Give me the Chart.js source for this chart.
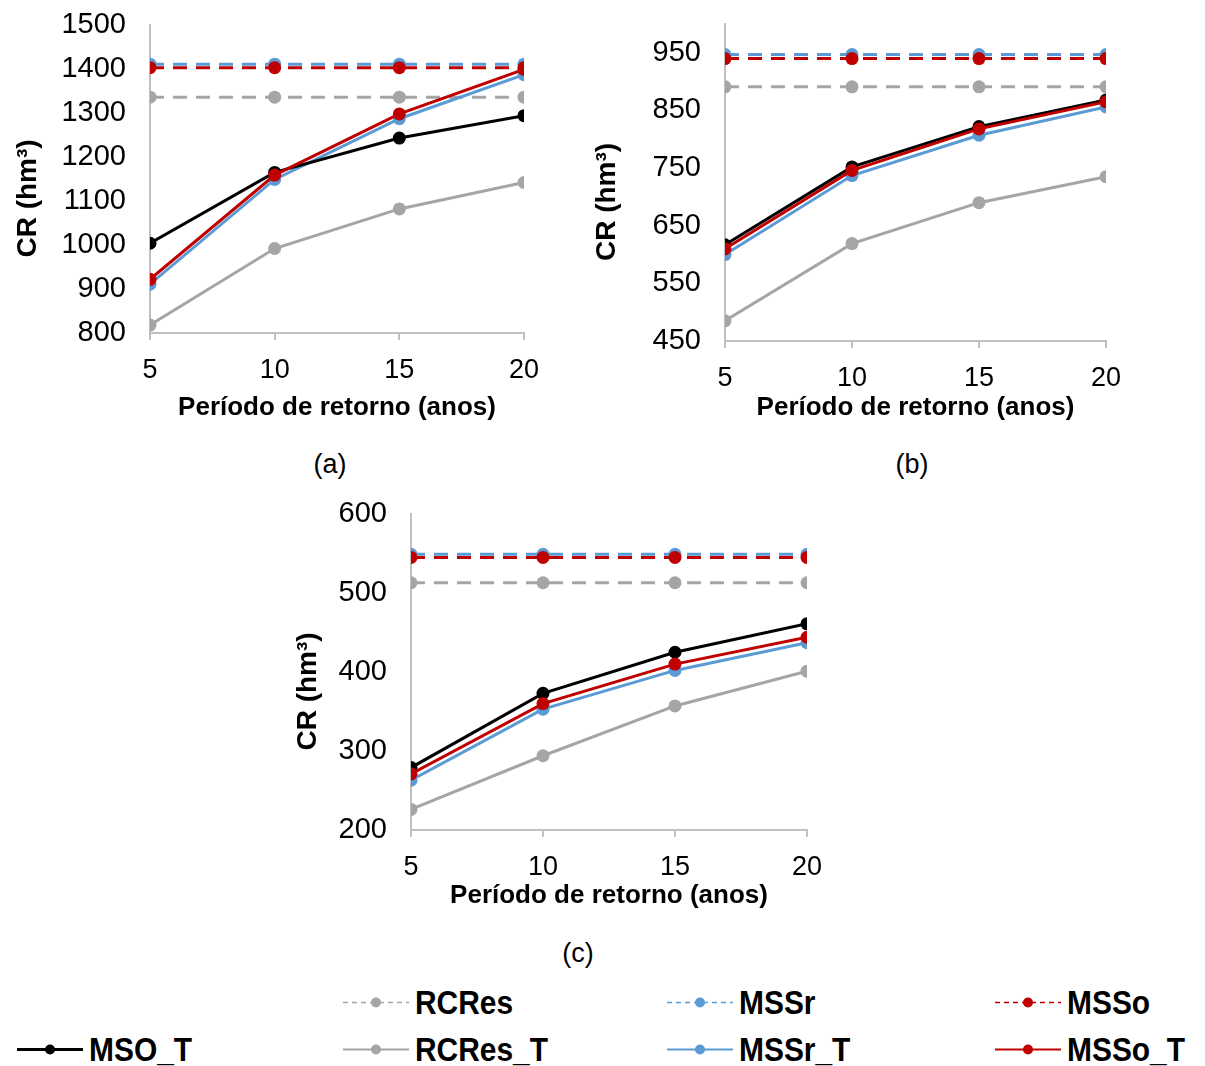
<!DOCTYPE html>
<html>
<head>
<meta charset="utf-8">
<script src="https://cdn.jsdelivr.net/npm/chart.js@4.4.1/dist/chart.umd.min.js"></script>
<style>
  body { margin: 0; background: #fff; width: 1205px; height: 1066px; position: relative; overflow: hidden;
         font-family: "Liberation Sans", Arial, sans-serif; }
  canvas { position: absolute; }
  .tag { position: absolute; font-size: 27px; color: #000; transform: translate(-50%, -50%); }
  .leg { position: absolute; display: flex; align-items: center; transform: translateY(-50%);
         font-size: 34px; font-weight: bold; color: #000; }
  .leg svg { margin-right: 6px; }
  .leg span { display: inline-block; transform: scaleX(0.88); transform-origin: left center; }
</style>
</head>
<body>
<canvas id="chartA" width="560" height="430" style="left:0;top:0"></canvas>
<canvas id="chartB" width="562" height="430" style="left:580px;top:0"></canvas>
<canvas id="chartC" width="563" height="425" style="left:280px;top:490px"></canvas>
<div class="tag" style="left:330px;top:464px">(a)</div>
<div class="tag" style="left:912px;top:464px">(b)</div>
<div class="tag" style="left:578px;top:953px">(c)</div>
<div id="legend"></div>

<script>
// Return periods (x axis)
const periods = [5, 10, 15, 20];

// Chart (a)
const yTicksA = [800, 900, 1000, 1100, 1200, 1300, 1400, 1500];
const rcresA   = [1336, 1336, 1336, 1336];
const mssrA    = [1411, 1411, 1411, 1411];
const mssoA    = [1403, 1403, 1403, 1403];
const msoTA    = [1004, 1165, 1243, 1294];
const rcresTA  = [818, 992, 1082, 1142];
const mssrTA   = [911, 1149, 1287, 1387];
const mssoTA   = [922, 1159, 1298, 1399];

// Chart (b)
const yTicksB = [450, 550, 650, 750, 850, 950];
const rcresB   = [891, 891, 891, 891];
const mssrB    = [947, 947, 947, 947];
const mssoB    = [940, 940, 940, 940];
const msoTB    = [617, 752, 822, 868];
const rcresTB  = [485, 619, 690, 735];
const mssrTB   = [600, 737, 807, 856];
const mssoTB   = [610, 746, 818, 865];

// Chart (c)
const yTicksC = [200, 300, 400, 500, 600];
const rcresC   = [513, 513, 513, 513];
const mssrC    = [549, 549, 549, 549];
const mssoC    = [545, 545, 545, 545];
const msoTC    = [279, 373, 425, 461];
const rcresTC  = [226, 294, 357, 401];
const mssrTC   = [263, 353, 402, 437];
const mssoTC   = [271, 360, 410, 444];

const FONT = "'Liberation Sans', Arial, sans-serif";
const AXIS_GRAY = '#bfbfbf';

// Series look (legend order)
const series = [
  { name: 'RCRes',   color: '#a5a5a5', dashed: true,  width: 3 },
  { name: 'MSSr',    color: '#5b9bd5', dashed: true,  width: 3 },
  { name: 'MSSo',    color: '#c00000', dashed: true,  width: 3 },
  { name: 'MSO_T',   color: '#000000', dashed: false, width: 3 },
  { name: 'RCRes_T', color: '#a5a5a5', dashed: false, width: 3 },
  { name: 'MSSr_T',  color: '#5b9bd5', dashed: false, width: 3 },
  { name: 'MSSo_T',  color: '#c00000', dashed: false, width: 3 }
];

// first = drawn on top
const drawOrder = ['MSSo_T', 'MSSo', 'MSO_T', 'MSSr_T', 'MSSr', 'RCRes_T', 'RCRes'];

function buildDatasets(values) {
  return drawOrder.map(name => {
    const s = series.find(x => x.name === name);
    return {
      label: name,
      data: periods.map((p, i) => ({ x: p, y: values[name][i] })),
      borderColor: s.color,
      backgroundColor: s.color,
      borderWidth: s.width,
      borderDash: s.dashed ? [14, 9] : [],
      pointRadius: 6.5,
      pointBorderWidth: 0,
      pointBackgroundColor: s.color,
      tension: 0,
      fill: false
    };
  });
}

function buildOptions(cfg) {
  return {
    responsive: false,
    animation: false,
    layout: { padding: { top: cfg.padTop, right: 36, bottom: 0, left: 0 } },
    plugins: { legend: { display: false }, tooltip: { enabled: false } },
    scales: {
      x: {
        type: 'linear',
        min: 5,
        max: 20,
        afterBuildTicks: s => { s.ticks = periods.map(v => ({ value: v })); },
        afterFit: s => { s.height = cfg.xHeight; },
        grid: { display: true, drawOnChartArea: false, drawTicks: true, tickLength: 7, color: AXIS_GRAY, lineWidth: 2 },
        border: { display: true, color: AXIS_GRAY, width: 2 },
        ticks: { color: '#000', padding: 14, maxRotation: 0, autoSkip: false,
                 font: { family: FONT, size: 27 }, callback: v => String(v) },
        title: {
          display: true,
          text: 'Período de retorno (anos)',
          color: '#000',
          font: { family: FONT, size: 26, weight: 'bold' },
          padding: { top: 0, bottom: cfg.xTitlePad }
        }
      },
      y: {
        min: cfg.yMin,
        max: cfg.yMax,
        afterBuildTicks: s => { s.ticks = cfg.yTicks.map(v => ({ value: v })); },
        afterFit: s => { s.width = cfg.yWidth; s.paddingTop = 0; s.paddingBottom = 0; },
        grid: { display: false, drawTicks: false },
        border: { display: true, color: AXIS_GRAY, width: 2 },
        ticks: { color: '#000', padding: 24, font: { family: FONT, size: 29 }, callback: v => String(v) },
        title: {
          display: true,
          // trailing spaces push the rotated title a bit lower, like the original
          text: 'CR (hm³)     ',
          color: '#000',
          font: { family: FONT, size: 28, weight: 'bold' },
          padding: { top: cfg.yTitlePad, bottom: 0 }
        }
      }
    }
  };
}

new Chart(document.getElementById('chartA'), {
  type: 'line',
  data: { datasets: buildDatasets({
    'RCRes': rcresA, 'MSSr': mssrA, 'MSSo': mssoA, 'MSO_T': msoTA,
    'RCRes_T': rcresTA, 'MSSr_T': mssrTA, 'MSSo_T': mssoTA }) },
  options: buildOptions({ padTop: 25, yWidth: 150, xHeight: 97, xTitlePad: 7, yTitlePad: 11,
                          yMin: 800, yMax: 1500, yTicks: yTicksA })
});

new Chart(document.getElementById('chartB'), {
  type: 'line',
  data: { datasets: buildDatasets({
    'RCRes': rcresB, 'MSSr': mssrB, 'MSSo': mssoB, 'MSO_T': msoTB,
    'RCRes_T': rcresTB, 'MSSr_T': mssrTB, 'MSSo_T': mssoTB }) },
  options: buildOptions({ padTop: 24, yWidth: 145, xHeight: 89, xTitlePad: 7, yTitlePad: 10,
                          yMin: 450, yMax: 1000, yTicks: yTicksB })
});

new Chart(document.getElementById('chartC'), {
  type: 'line',
  data: { datasets: buildDatasets({
    'RCRes': rcresC, 'MSSr': mssrC, 'MSSo': mssoC, 'MSO_T': msoTC,
    'RCRes_T': rcresTC, 'MSSr_T': mssrTC, 'MSSo_T': mssoTC }) },
  options: buildOptions({ padTop: 24, yWidth: 131, xHeight: 85, xTitlePad: 4, yTitlePad: 11,
                          yMin: 200, yMax: 600, yTicks: yTicksC })
});

// Shared legend (HTML)
const legendPos = {
  'RCRes':   [343, 1002], 'MSSr':   [667, 1002], 'MSSo':   [995, 1002],
  'MSO_T':   [17, 1049],  'RCRes_T': [343, 1049], 'MSSr_T': [667, 1049], 'MSSo_T': [995, 1049]
};
const legend = document.getElementById('legend');
series.forEach(s => {
  const [x, y] = legendPos[s.name];
  const dash = s.dashed ? 'stroke-dasharray="5 4"' : '';
  const lw = s.dashed ? 1.5 : (s.name === 'MSO_T' ? 3 : 2);
  const el = document.createElement('div');
  el.className = 'leg';
  el.style.left = x + 'px';
  el.style.top = y + 'px';
  el.innerHTML =
    '<svg width="66" height="20"><line x1="0" y1="10" x2="66" y2="10" stroke="' + s.color +
    '" stroke-width="' + lw + '" ' + dash + '/><circle cx="33" cy="10" r="5" fill="' + s.color + '"/></svg>' +
    '<span>' + s.name + '</span>';
  legend.appendChild(el);
});
</script>
</body>
</html>
